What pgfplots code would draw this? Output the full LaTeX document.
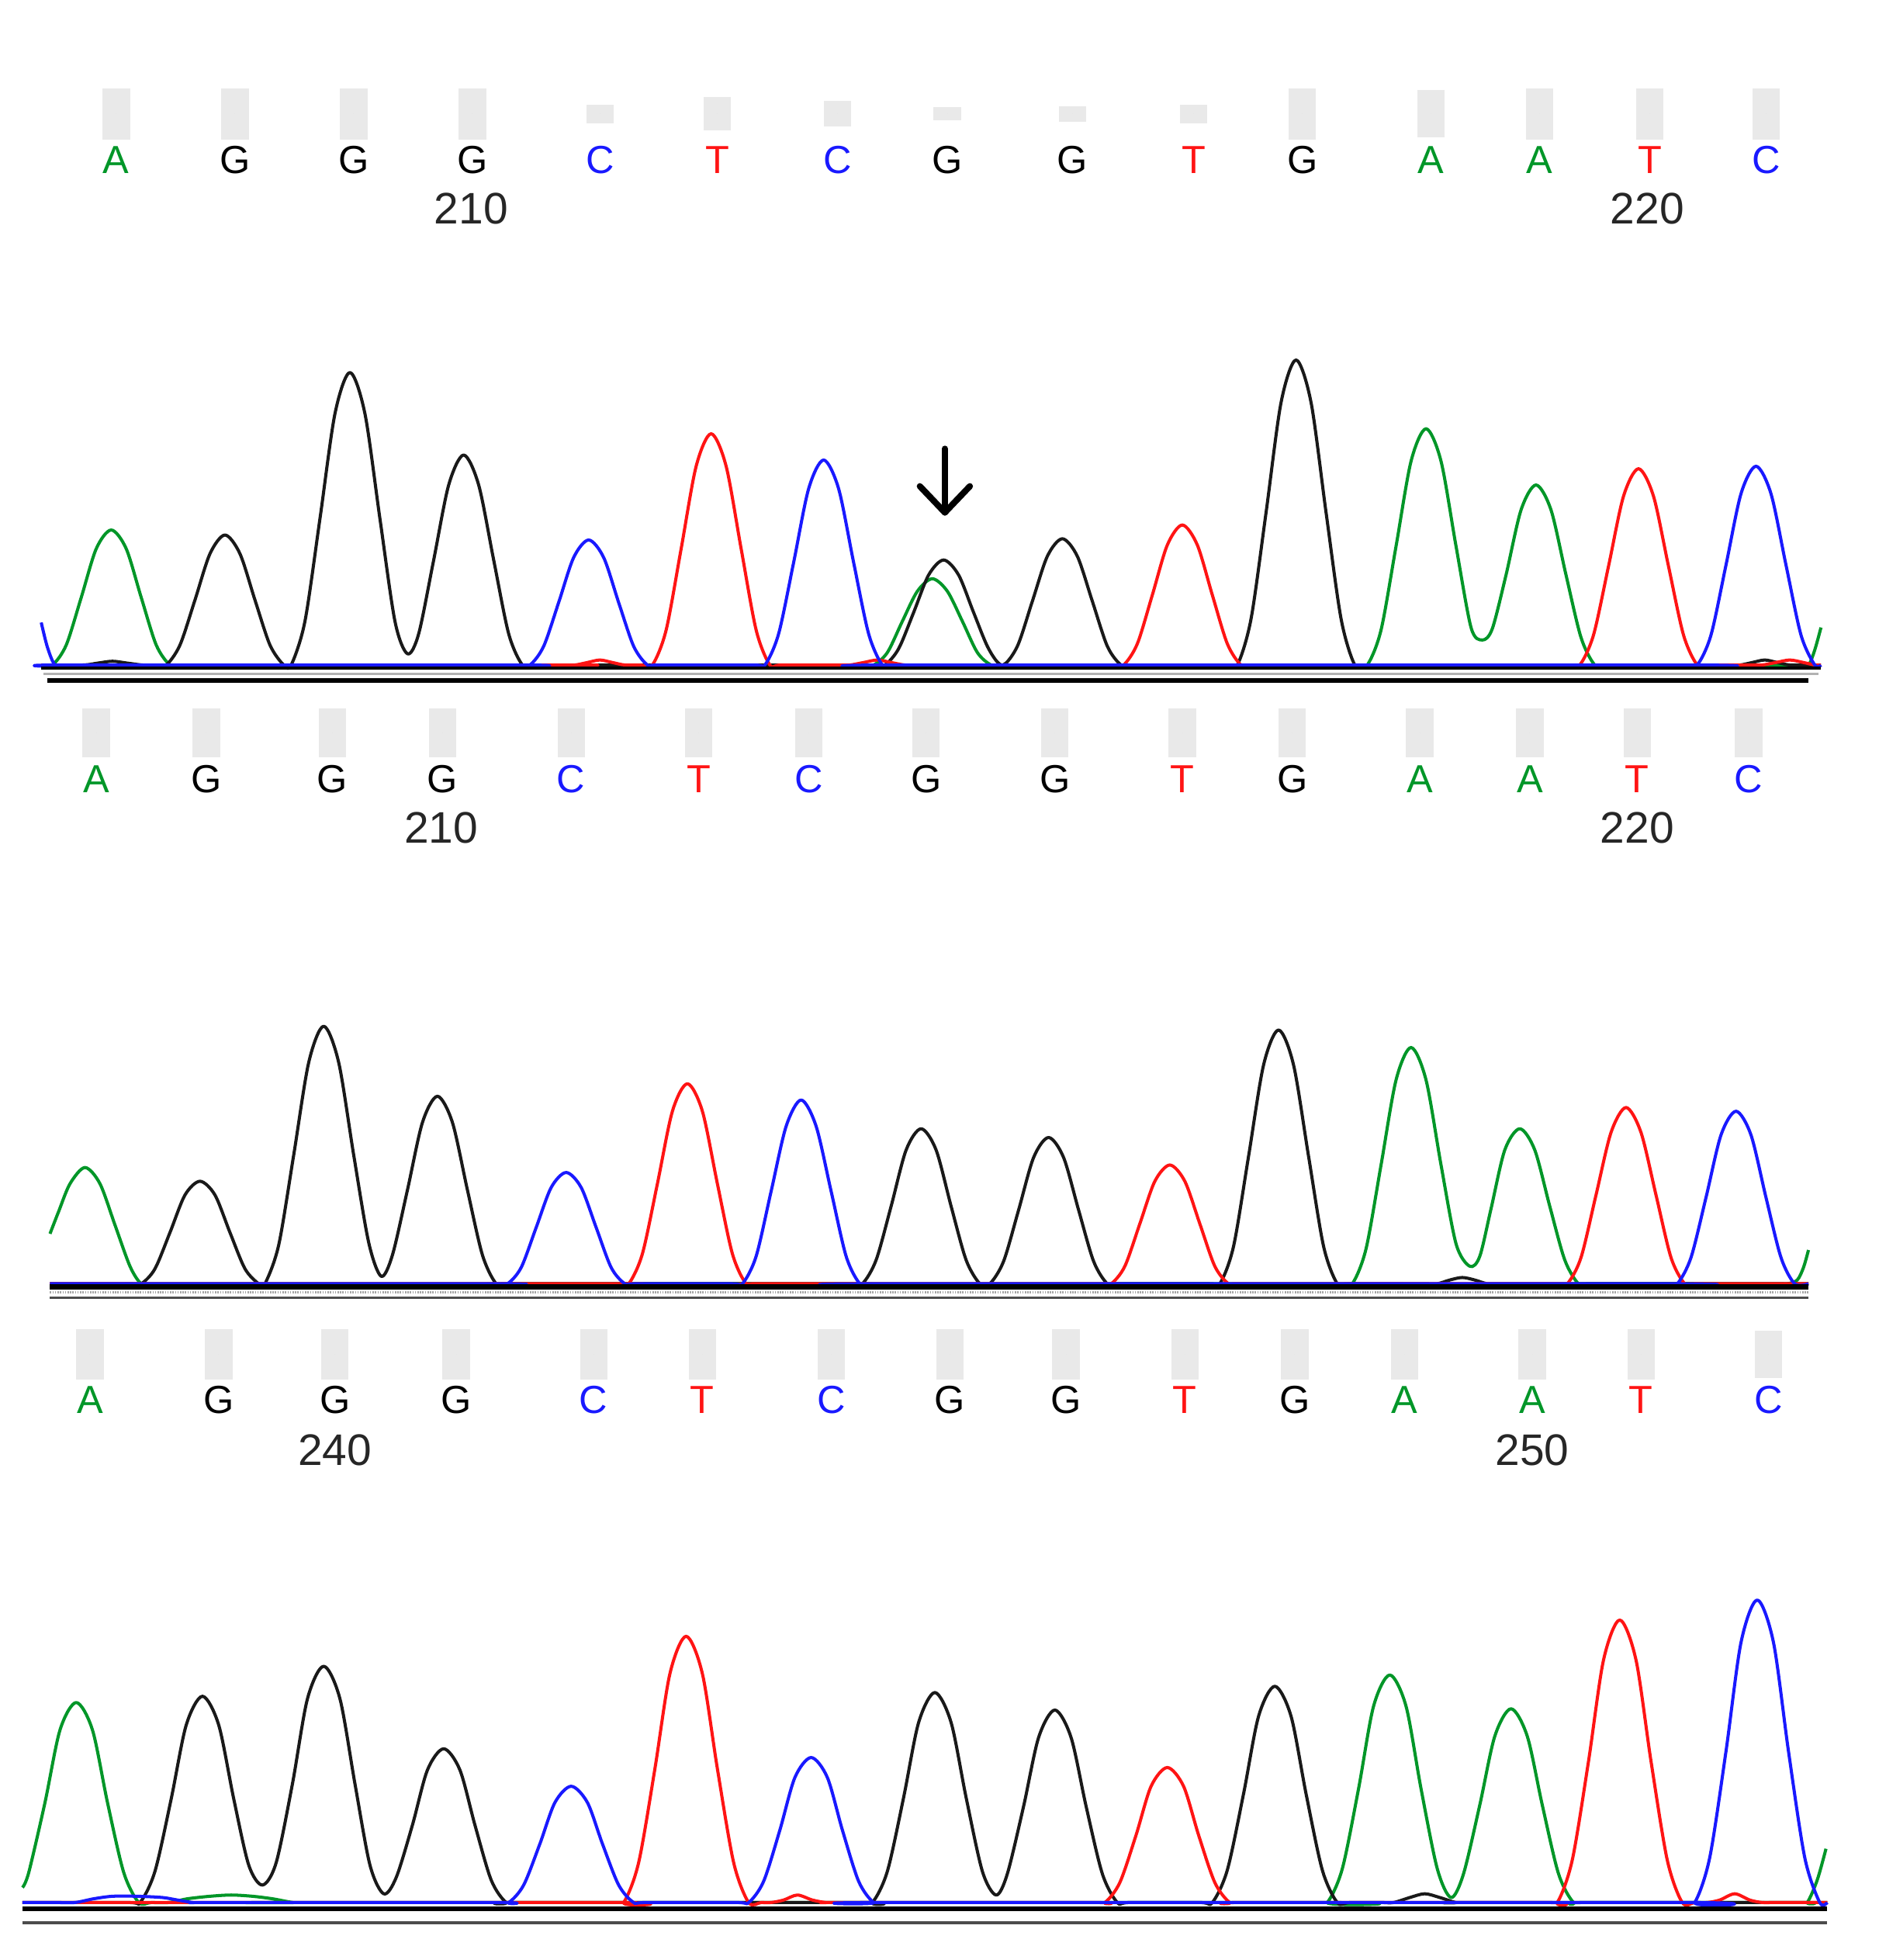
\documentclass[border=0pt]{standalone}
\usepackage{fontspec}
\setmainfont{Liberation Sans}
\usepackage{pgfplots}
\usepackage{pgfplotstable}
\pgfplotsset{compat=1.18}
\definecolor{tA}{RGB}{0,150,40}
\definecolor{tC}{RGB}{25,25,255}
\definecolor{tG}{RGB}{25,25,25}
\definecolor{tT}{RGB}{255,20,20}
\definecolor{qgray}{RGB}{233,233,233}

% ---------------- Panel 1 traces (x, height above baseline) ----------------
\pgfplotstableread{
x h
33 0
42 0
53 16
65 54
77 93
89 108
101 93
113 54
125 16
136 0
145 0
690 0
699 0
710 10
722 35
734 59
746 69
758 59
770 35
782 10
793 0
802 0
1085 0
1094 0
1105 28
1117 95
1129 163
1141 189
1153 163
1165 95
1177 30
1186 20
1194 29
1205 72
1217 124
1229 144
1241 124
1253 72
1265 22
1276 0
1285 0
1440 0
1447 0
1452 12
1457 30
}\pAa
\pgfplotstableread{
x h
33 0
66 0
78 1.5
90 3
102 1.5
114 0
124 0
133 0
144 16
156 52
168 89
180 104
192 89
204 52
216 16
227 0
233 0
244 35
256 117
268 201
280 234
292 201
304 117
316 35
326 9
335 25
347 84
359 144
371 168
383 144
395 84
407 25
418 0
427 0
699 0
708 0
719 13
731 42
743 72
755 84
767 72
779 42
791 13
802 0
814 15
826 51
838 87
850 101
862 87
874 51
886 15
897 0
906 0
981 0
990 0
1001 37
1013 122
1025 210
1037 244
1049 210
1061 122
1073 37
1084 0
1093 0
1380 0
1392 0
1402 2
1412 4
1422 2
1432 0
1444 0
1457 0
}\pAg
\pgfplotstableread{
x h
33 34
38 14
44 0
52 0
415 0
424 0
435 15
447 50
459 86
471 100
483 86
495 50
507 15
518 0
527 0
603 0
612 0
623 25
635 82
647 141
659 164
671 141
683 82
695 25
706 0
715 0
1349 0
1358 0
1369 24
1381 80
1393 137
1405 159
1417 137
1429 80
1441 24
1452 0
1457 0
}\pAc
\pgfplotstableread{
x h
33 0
450 0
460 0
470 2
480 4
490 2
500 0
513 0
522 0
533 28
545 93
557 159
569 185
581 159
593 93
605 28
616 0
625 0
670 0
680 0
691 2
702 4
713 2
724 0
736 0
890 0
899 0
910 17
922 56
934 96
946 112
958 96
970 56
982 17
993 0
1002 0
1255 0
1264 0
1275 24
1287 79
1299 135
1311 157
1323 135
1335 79
1347 24
1358 0
1367 0
1400 0
1410 0
1421 2
1432 4
1443 2
1452 0
1457 0
}\pAt

% ---------------- Panel 2 traces ----------------
\pgfplotstableread{
x h
40 40
47 58
56 80
68 93
80 80
92 47
104 14
113 0
122 0
1073 0
1082 0
1093 28
1105 95
1117 163
1129 189
1141 163
1153 95
1165 32
1176 14
1184 22
1193 60
1204 107
1216 124
1228 107
1240 62
1252 19
1263 0
1272 0
1420 0
1430 0
1438 3
1443 13
1447 27
}\pBa
\pgfplotstableread{
x h
40 0
104 0
113 0
124 12
136 41
148 71
160 82
172 71
184 41
196 12
207 0
212 0
223 31
235 103
247 177
259 206
271 177
283 103
295 33
305 6
314 23
326 75
338 129
350 150
362 129
374 75
386 23
397 0
406 0
681 0
690 0
701 19
713 62
725 107
737 124
749 107
761 62
773 19
784 0
792 0
803 18
815 59
827 101
839 117
851 101
863 59
875 18
886 0
895 0
967 0
976 0
987 30
999 102
1011 175
1023 203
1035 175
1047 102
1059 30
1070 0
1079 0
1140 0
1150 0
1160 3
1170 5
1180 3
1190 0
1200 0
1447 0
}\pBg
\pgfplotstableread{
x h
40 0
397 0
406 0
417 13
429 45
441 77
453 89
465 77
477 45
489 13
500 0
509 0
585 0
594 0
605 22
617 74
629 126
641 147
653 126
665 74
677 22
688 0
697 0
1333 0
1342 0
1353 21
1365 69
1377 119
1389 138
1401 119
1413 69
1425 21
1436 0
1447 0
}\pBc
\pgfplotstableread{
x h
40 0
494 0
503 0
514 24
526 80
538 138
550 160
562 138
574 80
586 24
597 0
606 0
880 0
889 0
900 14
912 48
924 82
936 95
948 82
960 48
972 14
983 0
992 0
1245 0
1254 0
1265 21
1277 71
1289 121
1301 141
1313 121
1325 71
1337 21
1348 0
1357 0
1447 0
}\pBt

% ---------------- Panel 3 traces ----------------
\pgfplotstableread{
x h
18 12
23 24
36 80
48 138
61 160
74 138
86 80
99 24
111 0
121 0
135 0
150 3
168 5
185 6
202 5
218 3
235 0
250 0
1052 0
1062 0
1074 27
1087 91
1099 157
1112 182
1125 157
1137 91
1150 27
1161 4
1171 23
1184 78
1196 133
1209 155
1222 133
1234 78
1247 23
1259 0
1269 0
1440 0
1446 0
1454 18
1461 43
}\pCa
\pgfplotstableread{
x h
18 0
102 0
112 0
124 25
137 83
149 142
162 165
175 142
187 83
199 30
210 14
221 32
234 95
246 163
259 189
272 163
284 95
296 30
307 7
317 20
330 62
342 106
355 123
368 106
380 62
393 18
405 0
415 0
688 0
698 0
710 25
723 84
735 144
748 168
761 144
773 84
786 25
797 6
806 23
819 77
831 132
844 154
857 132
869 77
882 23
894 0
904 0
960 0
970 0
982 26
995 87
1007 149
1020 173
1033 149
1045 87
1058 26
1070 0
1080 0
1105 0
1115 0
1128 4
1140 7
1152 4
1165 0
1175 0
1462 0
}\pCg
\pgfplotstableread{
x h
18 0
45 0
60 0
75 3
90 5
110 5
130 4
142 2
155 0
170 0
397 0
407 0
419 14
432 47
444 80
457 93
470 80
482 47
495 14
507 0
517 0
589 0
599 0
611 17
624 58
636 100
649 116
662 100
674 58
687 17
699 0
709 0
1346 0
1356 0
1368 36
1381 121
1393 208
1406 242
1419 208
1431 121
1444 36
1456 0
1462 0
}\pCc
\pgfplotstableread{
x h
18 0
489 0
499 0
511 32
524 107
536 183
549 213
562 183
574 107
587 32
599 0
609 0
617 0
627 2
638 6
650 2
661 0
672 0
874 0
884 0
896 16
909 54
921 93
934 108
947 93
959 54
972 16
984 0
994 0
1236 0
1246 0
1258 34
1271 113
1283 194
1296 226
1309 194
1321 113
1334 34
1346 0
1356 0
1366 0
1376 2
1388 7
1400 2
1410 0
1420 0
1462 0
}\pCt

% ---------------- Quality bars (x, centre y, half height) ----------------
\pgfplotstableread{
x y e
93 91 20.5
188 91 20.5
283 91 20.5
378 91 20.5
480 91 7.4
574 91 13.1
670 91 10
758 91 5.1
858 91 6.2
955 91 7.4
1042 91 20.5
1145 91 18.9
1232 91 20.5
1320 91 20.5
1413 91 20.5
77 586.5 19.5
165 586.5 19.5
266 586.5 19.5
354 586.5 19.5
457 586.5 19.5
559 586.5 19.5
647 586.5 19.5
741 586.5 19.5
844 586.5 19.5
946 586.5 19.5
1034 586.5 19.5
1136 586.5 19.5
1224 586.5 19.5
1310 586.5 19.5
1399 586.5 19.5
72 1083.5 20
175 1083.5 20
268 1083.5 20
365 1083.5 20
475 1083.5 20
562 1083.5 20
665 1083.5 20
760 1083.5 20
853 1083.5 20
948 1083.5 20
1036 1083.5 20
1124 1083.5 20
1226 1083.5 20
1313 1083.5 20
1415 1083.5 19
}\qbars

\begin{document}
\begin{tikzpicture}[
  lA/.style={text=tA, inner sep=0pt, font=\fontsize{9.4}{11}\selectfont},
  lC/.style={text=tC, inner sep=0pt, font=\fontsize{9.4}{11}\selectfont},
  lG/.style={text=black, inner sep=0pt, font=\fontsize{9.4}{11}\selectfont},
  lT/.style={text=tT, inner sep=0pt, font=\fontsize{9.4}{11}\selectfont},
  lN/.style={text=black!85, inner sep=0pt, font=\fontsize{10.6}{12}\selectfont},
]
\begin{axis}[
  x=0.3pt, y=0.3pt,
  xmin=0, xmax=1503, ymin=0, ymax=1568,
  y dir=reverse,
  hide axis, clip=false,
  trace/.style={smooth, tension=0.5, line width=0.75pt, mark=none, line join=round},
]
\coordinate (BL) at (axis cs:0,1568);
\coordinate (TR) at (axis cs:1503,0);

% quality bars
\addplot[only marks, mark size=0pt, mark options={draw=none, fill=none}, forget plot,
  error bars/.cd, y dir=both, y explicit, error mark=none,
  error bar style={line width=6.6pt, draw=qgray, line cap=butt}]
  table[x=x, y=y, y error=e] {\qbars};

% ---- panel 1 ----
\addplot[trace, tA] table[x=x, y expr=532-\thisrow{h}] {\pAa};
\addplot[trace, tG] table[x=x, y expr=532-\thisrow{h}] {\pAg};
\addplot[trace, tT] table[x=x, y expr=532-\thisrow{h}] {\pAt};
\addplot[trace, tC] table[x=x, y expr=532-\thisrow{h}] {\pAc};
\addplot[black, line width=0.9pt] coordinates {(33,534.5) (1457,534.5)};
\addplot[gray!60, line width=0.45pt] coordinates {(35,539) (1455,539)};
\addplot[black, line width=1.2pt] coordinates {(38,544.5) (1447,544.5)};

% ---- panel 2 ----
\addplot[trace, tA] table[x=x, y expr=1027-\thisrow{h}] {\pBa};
\addplot[trace, tG] table[x=x, y expr=1027-\thisrow{h}] {\pBg};
\addplot[trace, tT] table[x=x, y expr=1027-\thisrow{h}] {\pBt};
\addplot[trace, tC] table[x=x, y expr=1027-\thisrow{h}] {\pBc};
\addplot[black, line width=1.2pt] coordinates {(40,1029.5) (1447,1029.5)};
\addplot[gray!70, line width=0.6pt, dash pattern=on 0.3pt off 0.3pt] coordinates {(40,1034) (1447,1034)};
\addplot[black!70, line width=0.6pt] coordinates {(40,1038) (1447,1038)};

% ---- panel 3 ----
\addplot[trace, tA] table[x=x, y expr=1522-\thisrow{h}] {\pCa};
\addplot[trace, tG] table[x=x, y expr=1522-\thisrow{h}] {\pCg};
\addplot[trace, tT] table[x=x, y expr=1522-\thisrow{h}] {\pCt};
\addplot[trace, tC] table[x=x, y expr=1522-\thisrow{h}] {\pCc};
\addplot[black, line width=1.05pt] coordinates {(18,1527) (1462,1527)};
\addplot[black!70, line width=0.75pt] coordinates {(18,1538) (1462,1538)};

% arrow
\draw[line width=1.5pt, line cap=round, line join=round] (axis cs:756,359) -- (axis cs:756,410);
\draw[line width=1.5pt, line cap=round, line join=round] (axis cs:736,389) -- (axis cs:756,410) -- (axis cs:776,389);

% base calls panel 1
\node[lA] at (axis cs:93,128) {A};
\node[lG] at (axis cs:188,128) {G};
\node[lG] at (axis cs:283,128) {G};
\node[lG] at (axis cs:378,128) {G};
\node[lC] at (axis cs:480,128) {C};
\node[lT] at (axis cs:574,128) {T};
\node[lC] at (axis cs:670,128) {C};
\node[lG] at (axis cs:758,128) {G};
\node[lG] at (axis cs:858,128) {G};
\node[lT] at (axis cs:955,128) {T};
\node[lG] at (axis cs:1042,128) {G};
\node[lA] at (axis cs:1145,128) {A};
\node[lA] at (axis cs:1232,128) {A};
\node[lT] at (axis cs:1320,128) {T};
\node[lC] at (axis cs:1413,128) {C};
\node[lN] at (axis cs:377,167) {210};
\node[lN] at (axis cs:1318,167) {220};

% base calls panel 2
\node[lA] at (axis cs:77,623) {A};
\node[lG] at (axis cs:165,623) {G};
\node[lG] at (axis cs:266,623) {G};
\node[lG] at (axis cs:354,623) {G};
\node[lC] at (axis cs:457,623) {C};
\node[lT] at (axis cs:559,623) {T};
\node[lC] at (axis cs:647,623) {C};
\node[lG] at (axis cs:741,623) {G};
\node[lG] at (axis cs:844,623) {G};
\node[lT] at (axis cs:946,623) {T};
\node[lG] at (axis cs:1034,623) {G};
\node[lA] at (axis cs:1136,623) {A};
\node[lA] at (axis cs:1224,623) {A};
\node[lT] at (axis cs:1310,623) {T};
\node[lC] at (axis cs:1399,623) {C};
\node[lN] at (axis cs:353,662) {210};
\node[lN] at (axis cs:1310,662) {220};

% base calls panel 3
\node[lA] at (axis cs:72,1120) {A};
\node[lG] at (axis cs:175,1120) {G};
\node[lG] at (axis cs:268,1120) {G};
\node[lG] at (axis cs:365,1120) {G};
\node[lC] at (axis cs:475,1120) {C};
\node[lT] at (axis cs:562,1120) {T};
\node[lC] at (axis cs:665,1120) {C};
\node[lG] at (axis cs:760,1120) {G};
\node[lG] at (axis cs:853,1120) {G};
\node[lT] at (axis cs:948,1120) {T};
\node[lG] at (axis cs:1036,1120) {G};
\node[lA] at (axis cs:1124,1120) {A};
\node[lA] at (axis cs:1226,1120) {A};
\node[lT] at (axis cs:1313,1120) {T};
\node[lC] at (axis cs:1415,1120) {C};
\node[lN] at (axis cs:268,1160) {240};
\node[lN] at (axis cs:1226,1160) {250};
\end{axis}
\pgfresetboundingbox
\useasboundingbox (BL) rectangle (TR);
\end{tikzpicture}
\end{document}
